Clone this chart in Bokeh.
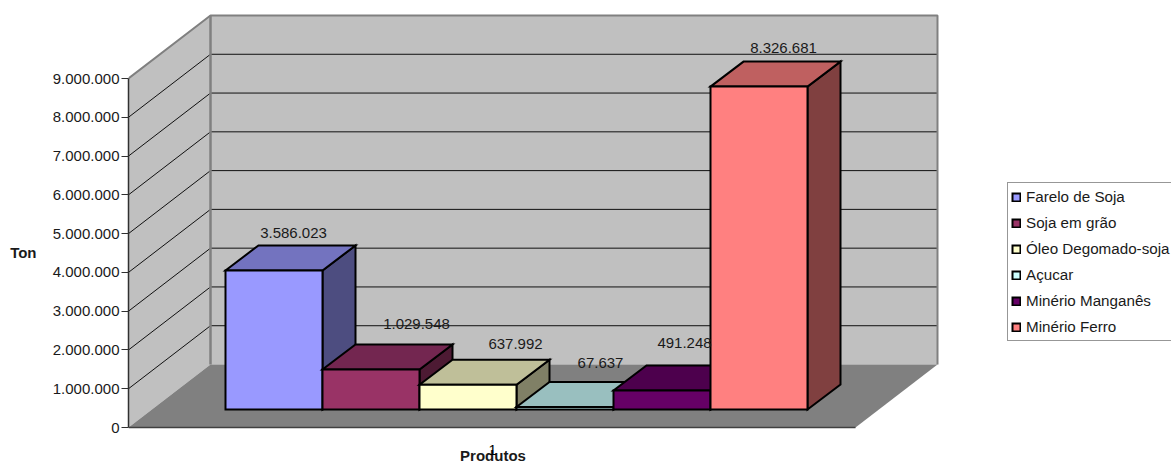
from bokeh.plotting import figure
from bokeh.models import Range1d, FixedTicker, Legend, LegendItem, Label, ColumnDataSource, LinearAxis
from bokeh.core.properties import value
from bokeh.embed import file_html
from bokeh.resources import INLINE

# ---- data ----
products = ["Farelo de Soja", "Soja em grão", "Óleo Degomado-soja", "Açucar", "Minério Manganês", "Minério Ferro"]
tons = [3586023, 1029548, 637992, 67637, 491248, 8326681]
value_labels = ["3.586.023", "1.029.548", "637.992", "67.637", "491.248", "8.326.681"]
front_colors = ["#9999FF", "#993366", "#FFFFCC", "#CCFFFF", "#660066", "#FF8080"]
top_colors = ["#7373BF", "#732650", "#BFBF99", "#99BFBF", "#4D004D", "#BF6060"]
side_colors = ["#4D4D80", "#4D1A33", "#808066", "#668080", "#330033", "#804040"]
y_ticks = [0, 1000000, 2000000, 3000000, 4000000, 5000000, 6000000, 7000000, 8000000, 9000000]
y_tick_labels = ["0", "1.000.000", "2.000.000", "3.000.000", "4.000.000", "5.000.000",
                 "6.000.000", "7.000.000", "8.000.000", "9.000.000"]

# ---- layout (x in page pixels, y through the ton scale) ----
FONT = "Liberation Sans"
Y_MAX = 9000000
PX = 349 / Y_MAX            # pixels per ton
AXIS_X, ZERO_PY = 128, 427
FLOOR_W = 727
WALL_DX, WALL_DY = 82, 63 / PX
BAR_X0, BAR_W = 225, 97
BAR_BASE = 18 / PX
BAR_DX, BAR_DY = 33, 25 / PX
LABEL_X = [68, 94, 96, 84, 71, 73]
LABEL_UP = [37, 46, 41, 44, 47, 39]


def py(pixel):
    return (ZERO_PY - pixel) / PX


p = figure(width=1171, height=462, output_backend="svg", toolbar_location=None,
           x_range=Range1d(AXIS_X, 1171), y_range=Range1d(py(462), py(0)),
           min_border_left=128, min_border_right=0, min_border_top=0, min_border_bottom=0,
           x_axis_location=None, background_fill_color="white", border_fill_color="white")
p.outline_line_color = None
p.grid.visible = False

ax = p.yaxis[0]
ax.ticker = FixedTicker(ticks=y_ticks)
ax.major_label_overrides = dict(zip(y_ticks, y_tick_labels))
ax.bounds = (0, Y_MAX)
ax.axis_line_color = "#303030"
ax.axis_line_width = 1.5
ax.major_tick_line_color = "#303030"
ax.major_tick_out = 7
ax.major_tick_in = 0
ax.minor_tick_line_color = None
ax.major_label_text_font = FONT
ax.major_label_text_font_size = "15px"
ax.major_label_text_color = "#1a1a1a"
ax.major_label_standoff = 2

# y axis title, carried by a second bare axis so it can sit level with the reference
title_tick = int(py(252))
title_ax = LinearAxis(ticker=FixedTicker(ticks=[title_tick]), major_label_overrides={title_tick: "Ton"},
                      axis_line_color=None, major_tick_line_color=None, minor_tick_line_color=None,
                      major_tick_in=0, major_tick_out=0, major_label_standoff=13,
                      major_label_text_font=FONT, major_label_text_font_size="15px",
                      major_label_text_font_style="bold", major_label_text_color="#1a1a1a")
p.add_layout(title_ax, "left")

# walls and floor
bx = AXIS_X + WALL_DX
p.patch([AXIS_X, bx, bx, AXIS_X], [Y_MAX, Y_MAX + WALL_DY, WALL_DY, 0], fill_color="#C0C0C0", line_color=None)
p.patch([bx, bx + FLOOR_W, bx + FLOOR_W, bx], [WALL_DY, WALL_DY, Y_MAX + WALL_DY, Y_MAX + WALL_DY],
        fill_color="#C0C0C0", line_color=None)
p.patch([AXIS_X, AXIS_X + FLOOR_W, bx + FLOOR_W, bx], [0, 0, WALL_DY, WALL_DY], fill_color="#808080", line_color=None)

for t in y_ticks[1:-1]:
    p.line([AXIS_X, bx, bx + FLOOR_W], [t, t + WALL_DY, t + WALL_DY], line_color="#101010", line_width=1)

p.line([AXIS_X, bx, bx + FLOOR_W, bx + FLOOR_W], [Y_MAX, Y_MAX + WALL_DY, Y_MAX + WALL_DY, WALL_DY],
       line_color="#808080", line_width=2)
p.line([bx, bx], [Y_MAX + WALL_DY, WALL_DY], line_color="#808080", line_width=2.5)
p.line([AXIS_X, AXIS_X + FLOOR_W], [0, 0], line_color="#404040", line_width=1.5)

# bars, painted left to right
items = []
bar_style = dict(line_color="black", line_width=2, line_join="miter")
for i, (name, t) in enumerate(zip(products, tons)):
    x0, x1 = BAR_X0 + i * BAR_W, BAR_X0 + (i + 1) * BAR_W
    y0, y1 = BAR_BASE, BAR_BASE + t
    p.patch([x1, x1 + BAR_DX, x1 + BAR_DX, x1], [y0, y0 + BAR_DY, y1 + BAR_DY, y1],
            fill_color=side_colors[i], **bar_style)
    p.patch([x0, x1, x1 + BAR_DX, x0 + BAR_DX], [y1, y1, y1 + BAR_DY, y1 + BAR_DY],
            fill_color=top_colors[i], **bar_style)
    front = p.patch([x0, x1, x1, x0], [y0, y0, y1, y1], fill_color=front_colors[i], **bar_style)
    items.append(LegendItem(label=name, renderers=[front]))

# value labels
src = ColumnDataSource(dict(
    x=[BAR_X0 + i * BAR_W + LABEL_X[i] for i in range(len(tons))],
    y=[BAR_BASE + t + LABEL_UP[i] / PX for i, t in enumerate(tons)],
    text=value_labels))
p.text("x", "y", text="text", source=src, text_align="center", text_baseline="middle",
       text_font=value(FONT), text_font_size="15px", text_color="#1a1a1a")

# x axis title and the single category label on top of it
p.add_layout(Label(x=492.5, y=py(454.5), text="Produtos", text_font=FONT, text_font_size="15px",
                   text_font_style="bold", text_align="center", text_baseline="middle", text_color="#1a1a1a"))
p.add_layout(Label(x=492, y=py(449.5), text="1", text_font=FONT, text_font_size="14.5px",
                   text_align="center", text_baseline="middle", text_color="#000000"))

legend = Legend(items=items, location=(879, 121), orientation="vertical", margin=0,
                padding=3, spacing=5, glyph_width=10, glyph_height=10, label_height=21,
                label_standoff=5, label_text_font=FONT, label_text_font_size="15.2px",
                label_text_color="#1a1a1a", border_line_color="#303030", border_line_width=1.5,
                background_fill_color="white", background_fill_alpha=1)
p.add_layout(legend)

open("out.html", "w").write(file_html(p, INLINE))
